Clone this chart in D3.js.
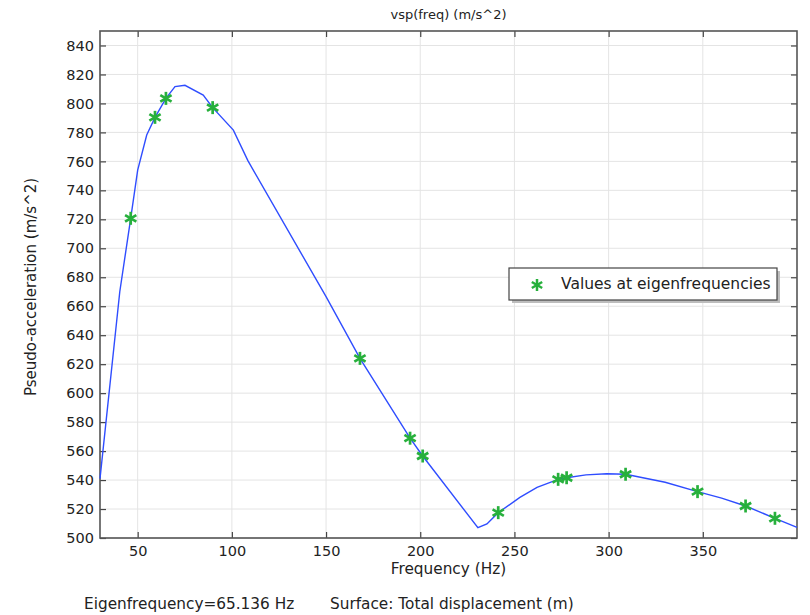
<!DOCTYPE html>
<html>
<head>
<meta charset="utf-8">
<script src="https://cdn.jsdelivr.net/npm/d3@7/dist/d3.min.js"></script>
<style>
  body { margin: 0; background: #fff; }
  text { font-family: "DejaVu Sans", sans-serif; fill: #222; }
</style>
</head>
<body>
<div id="chart"></div>
<script>
// curve: pseudo-acceleration vs frequency
const curveFreq = [30, 40.5, 46.3, 50, 54.8, 59.2, 65.0, 69.8, 75.1, 84.8, 89.8, 100.8,
  108.5, 150, 168, 194.6, 201.3, 230.6, 235.4, 241.4, 252.9, 262, 273.2, 277.7, 288,
  299, 309, 330, 347.2, 360, 372.7, 388.3, 400];
const curveValue = [541, 670, 720.7, 754, 778.2, 790.4, 803.5, 811.6, 812.5, 805.8, 797.1, 781.6,
  760.5, 666.6, 624, 568.9, 556.6, 507.1, 509.7, 517.5, 528, 535, 540.5, 541.6, 543.6,
  544.4, 544, 538.5, 532, 527.5, 522.1, 513.6, 507.4];

// values at eigenfrequencies
const eigenFreq = [46.3, 59.2, 65.0, 89.8, 168, 194.6, 201.3, 241.4, 273.2, 277.7, 309, 347.2, 372.7, 388.3];
const eigenValue = [720.7, 790.4, 803.5, 797.1, 624, 568.9, 556.6, 517.5, 540.5, 541.6, 544, 532, 522.1, 513.6];

const xTicks = [50, 100, 150, 200, 250, 300, 350];
const yTicks = d3.range(500, 841, 20);

const width = 810, height = 615;
const margin = { top: 31, right: 13, bottom: 77, left: 100 };
const innerW = width - margin.left - margin.right;
const innerH = height - margin.top - margin.bottom;

const x = d3.scaleLinear().domain([30, 400]).range([margin.left, width - margin.right]);
const y = d3.scaleLinear().domain([500, 850]).range([height - margin.bottom, margin.top]);

const svg = d3.select("#chart").append("svg")
  .attr("width", width)
  .attr("height", height);

// grid
svg.append("g")
  .selectAll("line.gx")
  .data(xTicks)
  .join("line")
  .attr("x1", d => x(d)).attr("x2", d => x(d))
  .attr("y1", margin.top).attr("y2", height - margin.bottom)
  .attr("stroke", "#e4e4e4").attr("stroke-width", 1);

svg.append("g")
  .selectAll("line.gy")
  .data(yTicks)
  .join("line")
  .attr("y1", d => y(d)).attr("y2", d => y(d))
  .attr("x1", margin.left).attr("x2", width - margin.right)
  .attr("stroke", "#e4e4e4").attr("stroke-width", 1);

// axes, ticks pointing inward
function styleAxis(g) {
  g.select(".domain").remove();
  g.selectAll(".tick line").attr("stroke", "#444").attr("stroke-width", 1.2);
  g.selectAll(".tick text").style("font-size", "14.5px").attr("fill", "#222")
    .style("font-family", "DejaVu Sans, sans-serif");
}

svg.append("g")
  .attr("transform", `translate(0, ${height - margin.bottom})`)
  .call(d3.axisBottom(x).tickValues(xTicks).tickSizeInner(-6).tickSizeOuter(0).tickPadding(8))
  .call(styleAxis);

svg.append("g")
  .attr("transform", `translate(0, ${margin.top})`)
  .call(d3.axisTop(x).tickValues(xTicks).tickSizeInner(-6).tickSizeOuter(0).tickFormat(""))
  .call(styleAxis);

svg.append("g")
  .attr("transform", `translate(${margin.left}, 0)`)
  .call(d3.axisLeft(y).tickValues(yTicks).tickSizeInner(-6).tickSizeOuter(0).tickPadding(6))
  .call(styleAxis);

svg.append("g")
  .attr("transform", `translate(${width - margin.right}, 0)`)
  .call(d3.axisRight(y).tickValues(yTicks).tickSizeInner(-6).tickSizeOuter(0).tickFormat(""))
  .call(styleAxis);

// frame
svg.append("rect")
  .attr("x", margin.left).attr("y", margin.top)
  .attr("width", innerW).attr("height", innerH)
  .attr("fill", "none").attr("stroke", "#555").attr("stroke-width", 1.6);

// curve
const curve = curveFreq.map((f, i) => [f, curveValue[i]]);
svg.append("path")
  .datum(curve)
  .attr("d", d3.line().x(d => x(d[0])).y(d => y(d[1])))
  .attr("fill", "none")
  .attr("stroke", "#2f4dff")
  .attr("stroke-width", 1.4);

// asterisk markers
function star(g, r, w) {
  [90, 30, 150].forEach(a => {
    const rad = a * Math.PI / 180;
    g.append("line")
      .attr("x1", -r * Math.cos(rad)).attr("y1", -r * Math.sin(rad))
      .attr("x2", r * Math.cos(rad)).attr("y2", r * Math.sin(rad))
      .attr("stroke", "#27b03c").attr("stroke-width", w);
  });
}

svg.append("g")
  .selectAll("g")
  .data(eigenFreq.map((f, i) => [f, eigenValue[i]]))
  .join("g")
  .attr("transform", d => `translate(${x(d[0])}, ${y(d[1])})`)
  .each(function() { star(d3.select(this), 6.5, 2.7); });

// legend
const lg = svg.append("g").attr("transform", "translate(509, 268)");
lg.append("rect").attr("x", 3).attr("y", 3).attr("width", 268).attr("height", 32).attr("fill", "#bdbdbd");
lg.append("rect").attr("width", 268).attr("height", 32).attr("fill", "#fff")
  .attr("stroke", "#444").attr("stroke-width", 1.2);
star(lg.append("g").attr("transform", "translate(28, 17)"), 6, 2.5);
lg.append("text").attr("x", 52).attr("y", 21).style("font-size", "15.5px")
  .text("Values at eigenfrequencies");

// titles
svg.append("text")
  .attr("x", (margin.left + width - margin.right) / 2)
  .attr("y", 19)
  .attr("text-anchor", "middle")
  .style("font-size", "13px")
  .text("vsp(freq) (m/s^2)");

svg.append("text")
  .attr("x", (margin.left + width - margin.right) / 2)
  .attr("y", 574)
  .attr("text-anchor", "middle")
  .style("font-size", "15.3px")
  .text("Frequency (Hz)");

svg.append("text")
  .attr("transform", "rotate(-90)")
  .attr("x", -287)
  .attr("y", 36)
  .attr("text-anchor", "middle")
  .style("font-size", "15px")
  .text("Pseudo-acceleration (m/s^2)");

// footer
svg.append("text").attr("x", 84).attr("y", 609).style("font-size", "15.3px")
  .text("Eigenfrequency=65.136 Hz");
svg.append("text").attr("x", 330).attr("y", 609).style("font-size", "15.3px")
  .text("Surface: Total displacement (m)");
</script>
</body>
</html>
